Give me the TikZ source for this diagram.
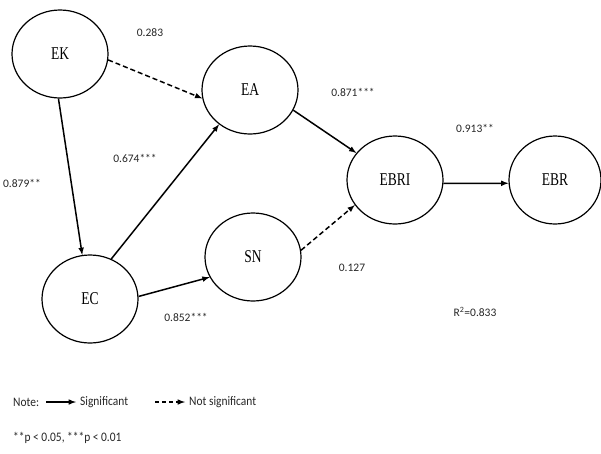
\documentclass[tikz,border=0pt]{standalone}
\usepackage{fontspec}
\setmainfont{Carlito}
\newfontfamily\nodefont{Liberation Serif}
\usetikzlibrary{shapes.geometric}
\tikzset{>=latex}
\tikzset{
  var/.style={draw,line width=1.2pt,ellipse,minimum width=96pt,minimum height=88pt,inner sep=0pt,
              font=\nodefont\fontsize{18}{20}\selectfont},
  coef/.style={font=\fontsize{11.5}{13}\selectfont,inner sep=1pt,text=black!85},
  legend/.style={coef,anchor=west,font=\fontsize{13}{15}\selectfont},
  sig/.style={->,line width=1.5pt},
  nsig/.style={->,line width=1.5pt,dash pattern=on 5pt off 3pt},
}
\newcommand{\nm}[1]{\scalebox{0.75}[1]{#1}}
\newcommand{\nt}[1]{\scalebox{0.88}[1]{#1}}

\begin{document}
\begin{tikzpicture}[x=1pt,y=-1pt]
  \useasboundingbox (0,0) rectangle (601,453);
  % constructs
  \node[var] (ek) at (60,54) {\nm{EK}};
  \node[var] (ea) at (250,90) {\nm{EA}};
  \node[var] (ec) at (90,299) {\nm{EC}};
  \node[var] (sn) at (253,257) {\nm{SN}};
  \node[var] (ebri) at (395,180) {\nm{EBRI}};
  \node[var,minimum width=92pt] (ebr) at (555,180) {\nm{EBR}};
  % paths
  \draw[nsig] (ek.-7) -- (ea.190);
  \draw[sig] (ek.-92) -- (ec.100);
  \draw[sig] (ec.62) -- (ea.228);
  \draw[sig] (ec.3) -- (sn.205);
  \draw[nsig] (sn.8) -- (ebri.212);
  \draw[sig] (ea.-25) -- (ebri.145);
  \draw[sig] (ebri.-4) -- (ebr.184);
  % coefficients
  \node[coef] (c1) at (150,33) {0.283};
  \node[coef] (c2) at (22,183) {0.879**};
  \node[coef] (c3) at (135,158) {0.674***};
  \node[coef] (c4) at (186,317) {0.852***};
  \node[coef] (c5) at (353,92) {0.871***};
  \node[coef] (c6) at (475,128) {0.913**};
  \node[coef] (c7) at (352,268) {0.127};
  \node[coef] (r2) at (475,312) {R\textsuperscript{2}=0.833};
  % legend
  \node[legend] (note) at (12,402) {\nt{Note:}};
  \coordinate (s1) at (46,402);
  \coordinate (s2) at (76,402);
  \draw[sig] (s1) -- (s2);
  \node[legend] (lsig) at (79,402) {\nt{Significant}};
  \coordinate (n1) at (155,402);
  \coordinate (n2) at (185,402);
  \draw[nsig,dash pattern=on 4pt off 3pt] (n1) -- (n2);
  \node[legend] (lnsig) at (188,402) {\nt{Not significant}};
  \node[legend] (pval) at (12,438) {\nt{**p < 0.05, ***p < 0.01}};
\end{tikzpicture}
\end{document}
